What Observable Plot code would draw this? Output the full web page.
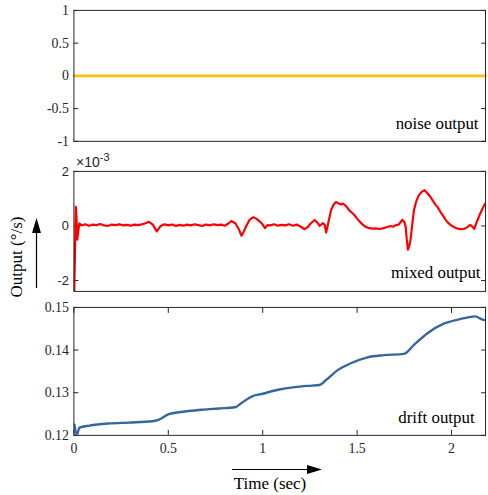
<!DOCTYPE html>
<html>
<head>
<meta charset="utf-8">
<script src="https://cdn.jsdelivr.net/npm/d3@7"></script>
<script src="https://cdn.jsdelivr.net/npm/@observablehq/plot@0.6"></script>
<style>
  html, body { margin: 0; padding: 0; background: #fff; }
  #root { position: relative; width: 488px; height: 495px; overflow: hidden; background: #fff; }
  svg { overflow: visible; }
</style>
</head>
<body>
<div id="root"></div>
<script>
// ---------- data ----------
const xDomain = [0, 2.18];
const xTicks = [0, 0.5, 1, 1.5, 2];

const noiseT = [0, 0.5, 1, 1.5, 2, 2.18];
const noiseV = [0, 0, 0, 0, 0, 0];
const noiseTicks = [-1, -0.5, 0, 0.5, 1];

// mixed output, in units of 1e-3 deg/s
const mixedT = [0, 0.002, 0.01, 0.014, 0.018, 0.023, 0.029, 0.035,
  0.04, 0.06, 0.08, 0.10, 0.12, 0.14, 0.16, 0.18, 0.20, 0.22, 0.24, 0.26, 0.28, 0.30, 0.32, 0.34, 0.36, 0.38,
  0.397, 0.418, 0.439, 0.46, 0.48, 0.50, 0.52, 0.54, 0.56, 0.58, 0.60, 0.62, 0.64, 0.66, 0.68, 0.70, 0.72, 0.74, 0.76, 0.78, 0.80, 0.82,
  0.834, 0.855, 0.872, 0.888, 0.90, 0.913, 0.93, 0.95, 0.968, 0.985, 1.0, 1.012, 1.025, 1.04, 1.06, 1.08, 1.10, 1.12, 1.14, 1.16, 1.18, 1.20,
  1.222, 1.24, 1.255, 1.275, 1.29, 1.301, 1.318, 1.328, 1.336, 1.35, 1.362, 1.375, 1.388, 1.40, 1.415, 1.425, 1.433, 1.445, 1.455, 1.47, 1.485,
  1.50, 1.515, 1.53, 1.545, 1.56, 1.58, 1.60, 1.62, 1.64, 1.66, 1.677, 1.69, 1.705, 1.72, 1.739, 1.75, 1.757, 1.763, 1.769, 1.776, 1.783,
  1.792, 1.801, 1.813, 1.827, 1.842, 1.857, 1.87, 1.888, 1.90, 1.913, 1.927, 1.941, 1.955, 1.966, 1.98, 1.994, 2.01, 2.024, 2.04, 2.055,
  2.07, 2.082, 2.092, 2.099, 2.11, 2.12, 2.134, 2.152, 2.165, 2.178];
const mixedV = [-3, -2.4, 0.7, 0.3, -0.5, -0.2, 0.1, 0.05,
  0.02, 0.06, 0.01, 0.05, 0.03, 0.07, 0.02, 0.0, 0.05, 0.03, 0.06, 0.02, 0.04, 0.01, 0.05, 0.03, 0.06, 0.1,
  0.15, 0.05, -0.2, 0.0, 0.06, 0.02, 0.05, 0.0, 0.04, 0.01, 0.05, 0.02, 0.06, 0.03, 0.0, 0.05, 0.02, 0.06, 0.03, 0.05, 0.01, 0.1,
  0.18, 0.1, -0.1, -0.36, -0.2, 0.0, 0.22, 0.32, 0.26, 0.16, 0.05, -0.08, 0.03, 0.02, 0.06, 0.01, 0.04, 0.02, 0.06, 0.01, 0.05, -0.02,
  -0.12, -0.03, 0.1, 0.22, 0.12, 0.0, 0.1, 0.05, -0.24, 0.2, 0.58, 0.78, 0.88, 0.83, 0.79, 0.82, 0.78, 0.7, 0.6, 0.5, 0.4,
  0.27, 0.15, 0.05, -0.03, -0.07, -0.1, -0.09, -0.11, -0.08, -0.04, 0.0, -0.03, 0.03, 0.05, 0.22, 0.15, -0.02, -0.5, -0.87, -0.75, -0.5,
  0.05, 0.58, 0.9, 1.13, 1.25, 1.31, 1.22, 1.07, 0.94, 0.8, 0.68, 0.52, 0.38, 0.25, 0.13, 0.04, -0.03, -0.08, -0.11, -0.12,
  -0.1, -0.05, 0.0, 0.04, -0.02, -0.11, 0.15, 0.46, 0.65, 0.82];
const mixedTicks = [-2, 0, 2];

const driftT = [0.003, 0.015, 0.029, 0.082, 0.187, 0.292, 0.415, 0.45, 0.503, 0.59, 0.678, 0.766, 0.854, 0.888, 0.941, 0.994,
  1.082, 1.169, 1.239, 1.301, 1.336, 1.397, 1.467, 1.555, 1.643, 1.748, 1.801, 1.871, 1.959, 2.029, 2.082, 2.125, 2.161, 2.18];
const driftV = [0.1225, 0.1200, 0.1218, 0.1223, 0.1228, 0.1230, 0.1233, 0.1237, 0.1250, 0.1256, 0.1260, 0.1263, 0.1266, 0.1276, 0.1291, 0.1297,
  0.1307, 0.1313, 0.1316, 0.1318, 0.1330, 0.1353, 0.1369, 0.1383, 0.1388, 0.1391, 0.1412, 0.1439, 0.1462, 0.1471, 0.1476, 0.1479, 0.1472, 0.1470];
const driftTicks = [0.12, 0.13, 0.14, 0.15];

// ---------- drawing ----------
const ink = "#262626";
const serif = "Liberation Serif";
const sans = "Liberation Sans";
const W = 492, ML = 74, MR = 3;
const fmt = d => String(d);
const blank = () => "";
const root = document.getElementById("root");

function place(el, top) { el.style.position = "absolute"; el.style.top = top + "px"; el.style.left = "0px"; root.appendChild(el); }
const zip = (a, b) => a.map((t, i) => ({t, v: b[i]}));

function yAxes(ticks, font, size) {
  return [
    Plot.axisY({anchor: "left", ticks, tickFormat: fmt, tickSize: -5, tickPadding: 10, label: null,
      stroke: ink, fill: ink, fontFamily: font, fontSize: size}),
    Plot.axisY({anchor: "right", ticks, tickFormat: blank, tickSize: -5, label: null, stroke: ink})
  ];
}

// panel 1: noise
const p1 = Plot.plot({
  width: W, height: 152, marginLeft: ML, marginRight: MR, marginTop: 10, marginBottom: 10,
  style: {fontFamily: serif, fontSize: "14px", color: ink, background: "transparent", overflow: "visible"},
  x: {domain: xDomain, axis: null},
  y: {domain: [-1, 1], axis: null},
  marks: [
    ...yAxes(noiseTicks, serif, 14),
    Plot.line(zip(noiseT, noiseV), {x: "t", y: "v", stroke: "#FDBE10", strokeWidth: 2.6}),
    Plot.frame({stroke: ink, strokeWidth: 1}),
    Plot.text(["noise output"], {frameAnchor: "bottom-right", dx: -7, dy: -12, fontSize: 17, fontFamily: serif, fill: "#000"})
  ]
});
place(p1, 0);

// panel 2: mixed
const p2 = Plot.plot({
  width: W, height: 142, marginLeft: ML, marginRight: MR, marginTop: 11, marginBottom: 10,
  style: {fontFamily: sans, fontSize: "13px", color: ink, background: "transparent", overflow: "visible"},
  x: {domain: xDomain, axis: null},
  y: {domain: [-2.4, 2], axis: null},
  marks: [
    ...yAxes(mixedTicks, sans, 13),
    Plot.line(zip(mixedT, mixedV), {x: "t", y: "v", stroke: "#FF0000", strokeWidth: 2.2, clip: true}),
    Plot.frame({stroke: ink, strokeWidth: 1}),
    Plot.text(["mixed output"], {frameAnchor: "bottom-right", dx: -5, dy: -14, fontSize: 17, fontFamily: serif, fill: "#000"})
  ]
});
place(p2, 160);

// panel 3: drift
const p3 = Plot.plot({
  width: W, height: 170, marginLeft: ML, marginRight: MR, marginTop: 10, marginBottom: 31,
  style: {fontFamily: serif, fontSize: "14px", color: ink, background: "transparent", overflow: "visible"},
  x: {domain: xDomain, axis: null},
  y: {domain: [0.12, 0.15], axis: null},
  marks: [
    ...yAxes(driftTicks, serif, 14),
    Plot.axisX({anchor: "bottom", ticks: xTicks, tickFormat: fmt, tickSize: -5, tickPadding: 13, label: null,
      stroke: ink, fill: ink, fontFamily: serif, fontSize: 14}),
    Plot.axisX({anchor: "top", ticks: xTicks, tickFormat: blank, tickSize: -5, label: null, stroke: ink}),
    Plot.line(zip(driftT, driftV), {x: "t", y: "v", stroke: "#3466A0", strokeWidth: 2.4, curve: "monotone-x", clip: true}),
    Plot.frame({stroke: ink, strokeWidth: 1}),
    Plot.text(["drift output"], {frameAnchor: "bottom-right", dx: -11, dy: -12, fontSize: 17, fontFamily: serif, fill: "#000"})
  ]
});
place(p3, 297);

// annotations overlay
const ns = "http://www.w3.org/2000/svg";
const ov = document.createElementNS(ns, "svg");
ov.setAttribute("width", 488); ov.setAttribute("height", 495);
ov.style.position = "absolute"; ov.style.top = "0px"; ov.style.left = "0px"; ov.style.pointerEvents = "none";
ov.innerHTML = `
  <text x="76" y="167" font-family="${sans}" font-size="14" fill="${ink}">×10<tspan dy="-6" font-size="11">-3</tspan></text>
  <line x1="36.5" y1="288" x2="36.5" y2="232" stroke="#000" stroke-width="1.2"/>
  <polygon points="36.5,218 32,233 41,233" fill="#000"/>
  <text transform="translate(22,257) rotate(-90)" text-anchor="middle" font-family="${serif}" font-size="17" fill="#000">Output (°/s)</text>
  <line x1="232" y1="469.5" x2="308" y2="469.5" stroke="#000" stroke-width="1.2"/>
  <polygon points="322,469.5 307,465 307,474" fill="#000"/>
  <text x="270" y="489" text-anchor="middle" font-family="${serif}" font-size="17" fill="#000">Time (sec)</text>
`;
root.appendChild(ov);
</script>
</body>
</html>
